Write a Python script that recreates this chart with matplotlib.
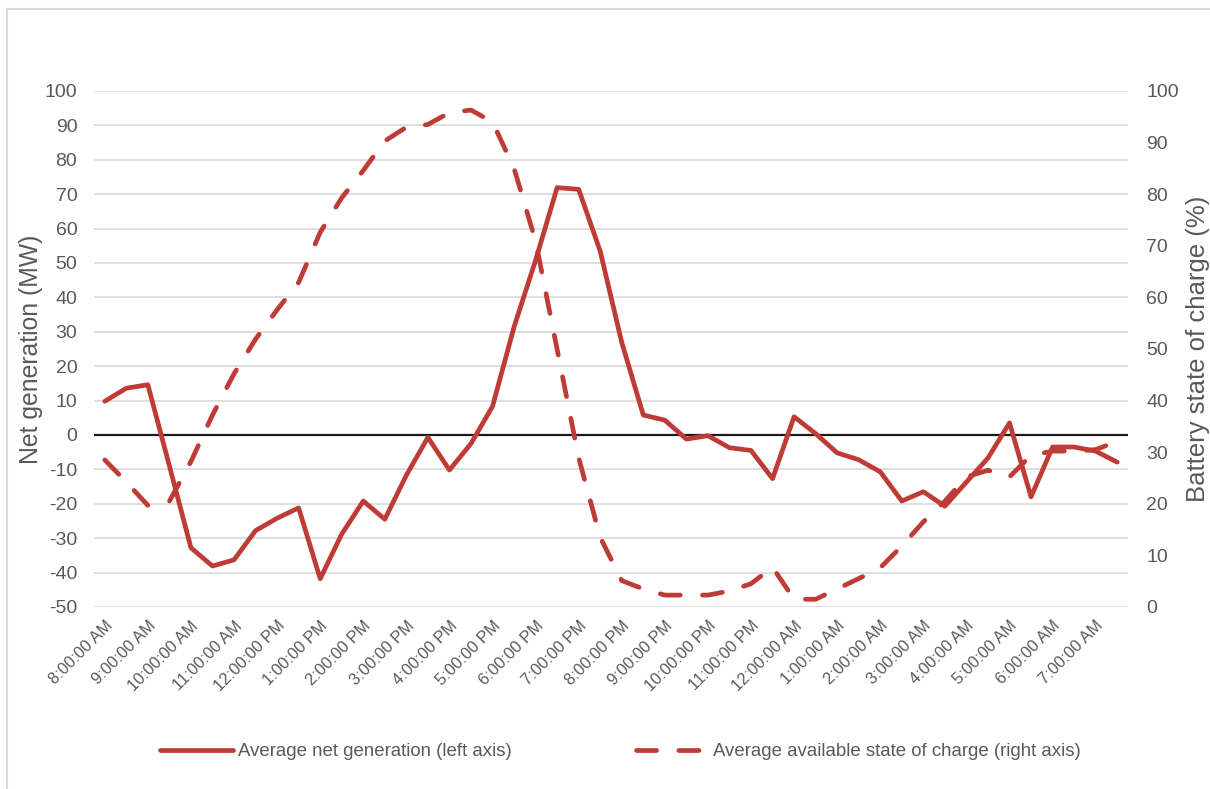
import matplotlib
matplotlib.use("Agg")
import matplotlib.pyplot as plt
from matplotlib.lines import Line2D

plt.rcParams['font.family'] = ['Liberation Sans', 'DejaVu Sans']
plt.rcParams['lines.scale_dashes'] = False
plt.rcParams['axes.unicode_minus'] = False

# hourly labels, data every half hour
hour_labels = ['8:00:00 AM', '9:00:00 AM', '10:00:00 AM', '11:00:00 AM',
               '12:00:00 PM', '1:00:00 PM', '2:00:00 PM', '3:00:00 PM',
               '4:00:00 PM', '5:00:00 PM', '6:00:00 PM', '7:00:00 PM',
               '8:00:00 PM', '9:00:00 PM', '10:00:00 PM', '11:00:00 PM',
               '12:00:00 AM', '1:00:00 AM', '2:00:00 AM', '3:00:00 AM',
               '4:00:00 AM', '5:00:00 AM', '6:00:00 AM', '7:00:00 AM']

net_gen = [9.8, 13.6, 14.6, -9.0, -32.8, -38.1, -36.3, -27.8,
           -24.2, -21.2, -41.8, -28.8, -19.2, -24.5, -11.7, -0.7,
           -10.2, -2.5, 8.3, 31.4, 50.8, 71.9, 71.4, 53.4,
           26.9, 5.8, 4.3, -1.2, -0.2, -3.7, -4.5, -12.7,
           5.3, 0.4, -5.2, -7.2, -10.7, -19.2, -16.5, -20.7,
           -13.7, -6.7, 3.5, -18.0, -3.5, -3.5, -4.7, -7.9]

soc = [28.5, 24.2, 19.7, 20.5, 28.2, 37.2, 45.2, 51.9,
       57.6, 62.9, 72.6, 79.3, 84.6, 90.3, 93.0, 93.5,
       95.8, 96.3, 94.0, 85.0, 70.9, 49.9, 28.9, 13.5,
       5.1, 3.5, 2.3, 2.3, 2.3, 3.1, 4.5, 7.7,
       1.5, 1.5, 3.5, 5.5, 7.6, 11.8, 16.5, 20.5,
       25.2, 26.5, 25.2, 29.4, 30.2, 30.2, 30.5, 32.1]

red = '#BF3B35'
grey = '#595959'

fig = plt.figure(figsize=(12.1, 7.89), dpi=100)
ax1 = fig.add_axes([0.0777, 0.2307, 0.8545, 0.654])
ax2 = ax1.twinx()

x = list(range(len(net_gen)))

ax1.set_ylim(-50, 100)
ax1.set_yticks(range(-50, 101, 10))
ax1.set_xlim(-0.5, len(net_gen) - 0.5)
ax1.grid(axis='y', color='#d9d9d9', linewidth=1.2)
ax1.set_axisbelow(True)
ax1.axhline(0, color='#1a1a1a', linewidth=1.6, zorder=1.5)
l1, = ax1.plot(x, net_gen, color=red, linewidth=3.4, solid_joinstyle='round',
               solid_capstyle='round', zorder=2,
               label='Average net generation (left axis)')

ax2.set_ylim(0, 100)
ax2.set_yticks(range(0, 101, 10))
l2, = ax2.plot(x, soc, color=red, linewidth=3.4, dashes=(14.5, 16.0),
               dash_capstyle='round', dash_joinstyle='round',
               label='Average available state of charge (right axis)')

ax1.set_xticks(range(0, len(net_gen), 2))
ax1.set_xticklabels(hour_labels, rotation=45, ha='right',
                    rotation_mode='anchor', color=grey)

for ax in (ax1, ax2):
    for s in ax.spines.values():
        s.set_visible(False)
    ax.tick_params(length=0, labelsize=14, labelcolor=grey)
ax1.tick_params(axis='y', pad=12)
ax2.tick_params(axis='y', pad=13)
ax1.tick_params(axis='x', pad=8, labelsize=11.8)

ax1.set_ylabel('Net generation (MW)', fontsize=17.8, color=grey, labelpad=1)
ax2.set_ylabel('Battery state of charge (%)', fontsize=18.5, color=grey, labelpad=5)

fig.legend(handles=[l1, l2], loc='center', bbox_to_anchor=(0.513, 0.047),
           ncol=2, frameon=False, fontsize=13.4, handlelength=3.9,
           handletextpad=0.25, columnspacing=6.7, labelcolor=grey)

# chart frame (left and top edges visible)
fig.add_artist(Line2D([7 / 1210, 7 / 1210], [0, 1 - 9 / 789],
                      transform=fig.transFigure, color='#d9d9d9', linewidth=1.5))
fig.add_artist(Line2D([7 / 1210, 1], [1 - 9 / 789, 1 - 9 / 789],
                      transform=fig.transFigure, color='#d9d9d9', linewidth=1.5))

fig.savefig('out.png', dpi=100)
